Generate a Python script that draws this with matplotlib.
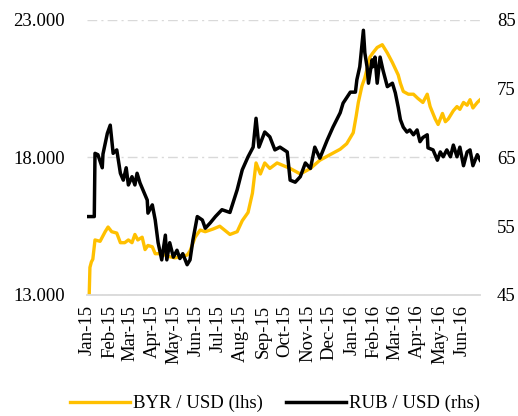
import matplotlib
matplotlib.use("Agg")
import matplotlib.pyplot as plt
import matplotlib.dates as mdates
import numpy as np

plt.rcParams['font.family'] = ['Liberation Serif', 'DejaVu Serif']

start = np.datetime64("2015-01-01")

# BYR / USD, thousands (left axis); x = days after 1 Jan 2015
byr_days = [3, 4, 6, 8, 11, 18, 25, 29, 34, 41,
            46, 52, 57, 62, 66, 70, 76, 80, 84, 90,
            94, 103, 112, 121, 131, 138, 142, 149, 156, 163,
            174, 183, 197, 207, 214, 222, 228, 233, 239, 245,
            252, 262, 280, 294, 308, 321, 335, 349, 358, 367,
            371, 374, 379, 383, 390, 394, 400, 407, 414, 421,
            429, 432, 436, 443, 450, 456, 463, 469, 473, 480,
            484, 490, 494, 498, 505, 510, 514, 519, 524, 528,
            532, 538, 542]
byr_vals = [13.0, 14.0, 14.2, 14.3, 15.0, 14.95, 15.3, 15.47, 15.3, 15.25,
            14.9, 14.9, 15.0, 14.9, 15.2, 15.0, 15.1, 14.65, 14.8, 14.75,
            14.5, 14.5, 14.4, 14.35, 14.4, 14.45, 14.6, 15.1, 15.36, 15.3,
            15.4, 15.5, 15.2, 15.3, 15.7, 16.0, 16.7, 17.8, 17.4, 17.8,
            17.6, 17.8, 17.6, 17.4, 17.6, 17.9, 18.1, 18.3, 18.5, 18.9,
            19.5, 20.0, 20.6, 20.9, 21.65, 21.8, 22.0, 22.1, 21.8, 21.45,
            21.0, 20.7, 20.4, 20.3, 20.3, 20.15, 20.0, 20.3, 19.85, 19.4,
            19.2, 19.6, 19.3, 19.4, 19.7, 19.85, 19.75, 20.0, 19.9, 20.1,
            19.8, 20.0, 20.1]

# RUB / USD (right axis)
rub_days = [0, 10, 11, 15, 21, 22, 28, 32, 36, 41,
            46, 50, 54, 57, 62, 66, 69, 73, 77, 83,
            84, 90, 94, 98, 103, 108, 110, 114, 119, 124,
            128, 132, 138, 142, 146, 152, 159, 163, 170, 177,
            186, 197, 207, 214, 222, 229, 233, 237, 245, 252,
            259, 266, 276, 280, 287, 294, 301, 308, 314, 321,
            331, 339, 349, 353, 363, 370, 372, 376, 381, 383,
            386, 388, 393, 394, 397, 400, 404, 408, 414, 421,
            425, 429, 432, 436, 441, 445, 450, 455, 459, 463,
            469, 470, 477, 483, 487, 491, 496, 501, 505, 510,
            514, 519, 524, 528, 532, 538, 542]
rub_vals = [56.4, 56.4, 65.6, 65.4, 63.5, 65.5, 68.5, 69.7, 65.6, 66.1,
            62.7, 61.7, 63.5, 61.0, 62.2, 61.0, 62.7, 61.3, 60.3, 58.8,
            56.9, 58.1, 55.9, 52.6, 50.1, 53.7, 50.1, 52.6, 50.5, 51.5,
            50.3, 51.0, 49.4, 50.1, 53.0, 56.4, 55.9, 54.7, 55.5, 56.4,
            57.4, 57.0, 60.3, 63.2, 65.1, 66.5, 70.7, 66.5, 68.7, 68.0,
            66.1, 66.5, 65.8, 61.7, 61.4, 62.2, 64.2, 63.4, 66.5, 64.9,
            67.5, 69.4, 71.5, 72.9, 74.5, 74.5, 76.3, 78.2, 83.5, 80.2,
            78.2, 75.8, 79.2, 78.2, 79.6, 75.8, 79.6, 77.7, 75.3, 75.8,
            74.4, 72.3, 70.5, 69.4, 68.7, 69.0, 68.3, 69.0, 67.3, 67.9,
            68.3, 66.4, 66.1, 64.6, 65.8, 65.1, 66.1, 65.1, 66.8, 65.1,
            66.5, 63.8, 65.8, 66.1, 63.8, 65.4, 64.6]

byr_x = start + np.array(byr_days).astype("timedelta64[D]")
rub_x = start + np.array(rub_days).astype("timedelta64[D]")

fig = plt.figure(figsize=(5.18, 4.16), dpi=100)
ax = fig.add_axes([0.168, 0.291, 0.759, 0.661])
ax2 = ax.twinx()

l1, = ax.plot(byr_x, byr_vals, color="#FFC000", lw=2.4, label="BYR / USD (lhs)")
l2, = ax2.plot(rub_x, rub_vals, color="black", lw=2.5, label="RUB / USD (rhs)")

ax.set_ylim(13, 23)
ax.set_yticks([13, 18, 23])
ax.set_yticklabels(["13.000", "18.000", "23.000"])
ax2.set_ylim(45, 85)
ax2.set_yticks([45, 55, 65, 75, 85])

ax.set_xlim(start, np.datetime64("2016-06-26"))
ax.xaxis.set_major_locator(mdates.MonthLocator())
ax.xaxis.set_major_formatter(mdates.DateFormatter("%b-%y"))
plt.setp(ax.get_xticklabels(), rotation=90)

ax.grid(axis="y", color="#D9D9D9", lw=1.0, dashes=(7, 3, 1.5, 3))
ax.set_axisbelow(True)

for a in (ax, ax2):
    for s in a.spines.values():
        s.set_visible(False)
    a.tick_params(length=0, labelsize=13.5)
ax.spines["bottom"].set_visible(True)
ax.spines["bottom"].set_color("#D9D9D9")
ax.spines["bottom"].set_linewidth(1.3)
ax.tick_params(axis="y", pad=16)
ax.tick_params(axis="x", pad=7)
ax2.tick_params(axis="y", pad=12)

fig.legend(handles=[l1, l2], loc="center", bbox_to_anchor=(0.531, 0.03), ncol=2,
           frameon=False, fontsize=13.5, handlelength=3.2, columnspacing=1.2,
           handletextpad=0.2)

fig.savefig("out.png", dpi=100)
